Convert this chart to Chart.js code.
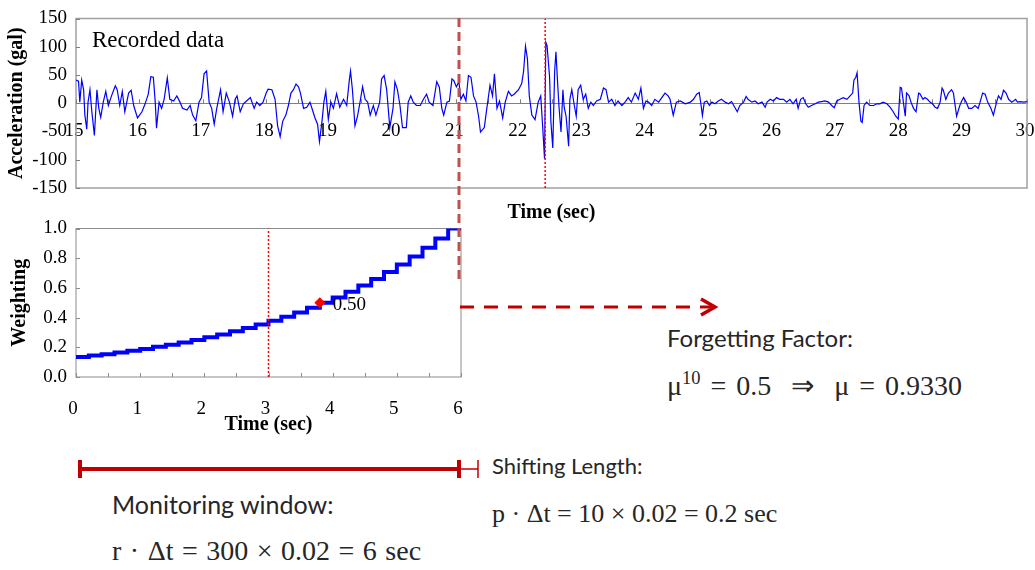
<!DOCTYPE html>
<html>
<head>
<meta charset="utf-8">
<title>Monitoring window and forgetting factor</title>
<script src="https://cdn.jsdelivr.net/npm/chart.js@4.4.1/dist/chart.umd.min.js"></script>
<style>
  html, body { margin: 0; padding: 0; background: #fff; }
  #page { position: relative; width: 1035px; height: 570px; overflow: hidden; }
  canvas { position: absolute; left: 0; }
  #accelChart { top: 0; }
  #weightChart { top: 210px; }
  .note { position: absolute; white-space: nowrap; color: #000; }
  .serif { font-family: 'Liberation Serif', 'Times New Roman', serif; }
  .sans { font-family: Lato, 'Open Sans', sans-serif; color: #262626; }
  .math { font-family: 'Liberation Serif', 'Times New Roman', serif; color: #262626; word-spacing: 3px; }
  .math sup { font-size: 0.66em; position: relative; top: -0.05em; }
  svg { position: absolute; left: 0; top: 0; }
</style>
</head>
<body>
<div id="page">
  <canvas id="accelChart" width="1035" height="223"></canvas>
  <canvas id="weightChart" width="475" height="225"></canvas>

  <div class="note serif" style="left:92px; top:27px; font-size:23px; line-height:26px;">Recorded data</div>

  <div class="note sans" style="left:667px; top:323px; font-size:24px; line-height:29px;">Forgetting Factor:</div>
  <div class="note math" style="left:667px; top:363px; font-size:28px; line-height:33px;">μ<sup>10</sup> = 0.5 &nbsp;⇒&nbsp; μ = 0.9330</div>

  <div class="note sans" style="left:492px; top:452px; font-size:22px; line-height:27px;">Shifting Length:</div>
  <div class="note math" style="left:492px; top:498px; font-size:26px; line-height:31px; word-spacing:0;">p · Δt = 10 × 0.02 = 0.2 sec</div>

  <div class="note sans" style="left:112px; top:489px; font-size:25px; line-height:30px;">Monitoring window:</div>
  <div class="note math" style="left:112px; top:534px; font-size:28px; line-height:33px; word-spacing:1.5px;">r · Δt = 300 × 0.02 = 6 sec</div>

  <svg width="1035" height="570">
    <!-- end of the current window -->
    <line x1="459" y1="18" x2="459" y2="280" stroke="#c0504d" stroke-width="3" stroke-dasharray="9 5"/>
    <!-- weighting carried forward -->
    <line x1="460" y1="307" x2="712" y2="307" stroke="#c00000" stroke-width="3" stroke-dasharray="14 10"/>
    <polyline points="701,299 715,307 701,315" fill="none" stroke="#c00000" stroke-width="3.5"/>
    <!-- monitoring window and shift -->
    <line x1="80" y1="469" x2="459" y2="469" stroke="#c00000" stroke-width="4"/>
    <line x1="80" y1="460" x2="80" y2="478" stroke="#c00000" stroke-width="4"/>
    <line x1="459" y1="460" x2="459" y2="478" stroke="#c00000" stroke-width="4"/>
    <line x1="459" y1="469" x2="478" y2="469" stroke="#c00000" stroke-width="1.5"/>
    <line x1="478" y1="460" x2="478" y2="478" stroke="#c00000" stroke-width="1.5"/>
  </svg>
</div>

<script>
// recorded acceleration, 15-30 s (gal)
const accelTime = [
  15.00, 15.04, 15.06, 15.09, 15.12, 15.14, 15.17, 15.19, 15.22, 15.25, 15.29, 15.33, 15.36, 15.39, 15.43, 15.47,
  15.51, 15.56, 15.62, 15.65, 15.69, 15.73, 15.77, 15.83, 15.87, 15.91, 15.97, 16.04, 16.09, 16.14, 16.18, 16.22,
  16.25, 16.27, 16.31, 16.35, 16.39, 16.44, 16.48, 16.54, 16.59, 16.64, 16.68, 16.75, 16.80, 16.84, 16.89, 16.94,
  16.98, 17.02, 17.06, 17.10, 17.14, 17.18, 17.22, 17.28, 17.32, 17.37, 17.42, 17.47, 17.51, 17.54, 17.59, 17.64,
  17.69, 17.75, 17.81, 17.85, 17.90, 17.95, 18.00, 18.03, 18.09, 18.14, 18.18, 18.22, 18.26, 18.31, 18.35, 18.39,
  18.43, 18.47, 18.51, 18.54, 18.59, 18.64, 18.69, 18.73, 18.77, 18.81, 18.84, 18.88, 18.91, 18.94, 18.98, 19.02,
  19.06, 19.11, 19.16, 19.22, 19.27, 19.31, 19.33, 19.36, 19.40, 19.44, 19.48, 19.52, 19.56, 19.60, 19.64, 19.69,
  19.73, 19.79, 19.82, 19.86, 19.90, 19.95, 20.00, 20.03, 20.07, 20.11, 20.15, 20.21, 20.24, 20.28, 20.32, 20.37,
  20.43, 20.48, 20.53, 20.57, 20.63, 20.69, 20.73, 20.77, 20.80, 20.85, 20.89, 20.93, 20.96, 21.00, 21.04, 21.07,
  21.11, 21.15, 21.19, 21.23, 21.27, 21.31, 21.35, 21.38, 21.44, 21.48, 21.53, 21.57, 21.60, 21.64, 21.68, 21.73,
  21.77, 21.82, 21.87, 21.91, 21.98, 22.03, 22.06, 22.09, 22.12, 22.15, 22.19, 22.24, 22.29, 22.33, 22.36, 22.39,
  22.41, 22.43, 22.47, 22.49, 22.52, 22.55, 22.57, 22.60, 22.62, 22.65, 22.68, 22.70, 22.73, 22.77, 22.79, 22.82,
  22.86, 22.89, 22.92, 22.96, 23.00, 23.04, 23.08, 23.12, 23.16, 23.21, 23.27, 23.32, 23.36, 23.40, 23.45, 23.50,
  23.55, 23.61, 23.66, 23.71, 23.76, 23.82, 23.87, 23.91, 23.95, 23.99, 24.03, 24.08, 24.13, 24.19, 24.24, 24.29,
  24.34, 24.37, 24.42, 24.47, 24.53, 24.61, 24.69, 24.74, 24.79, 24.83, 24.86, 24.88, 24.91, 24.95, 24.99, 25.03,
  25.08, 25.13, 25.18, 25.24, 25.29, 25.34, 25.39, 25.43, 25.47, 25.53, 25.57, 25.60, 25.66, 25.71, 25.76, 25.82,
  25.87, 25.90, 25.95, 26.00, 26.05, 26.10, 26.16, 26.21, 26.26, 26.31, 26.36, 26.39, 26.43, 26.47, 26.51, 26.55,
  26.60, 26.66, 26.71, 26.76, 26.81, 26.87, 26.92, 26.96, 27.00, 27.05, 27.10, 27.16, 27.21, 27.25, 27.27, 27.30,
  27.32, 27.35, 27.38, 27.40, 27.43, 27.47, 27.52, 27.58, 27.63, 27.68, 27.73, 27.79, 27.84, 27.89, 27.93, 27.97,
  28.00, 28.02, 28.05, 28.08, 28.10, 28.14, 28.17, 28.21, 28.25, 28.29, 28.31, 28.36, 28.39, 28.43, 28.47, 28.51,
  28.55, 28.59, 28.63, 28.66, 28.68, 28.72, 28.76, 28.81, 28.84, 28.87, 28.89, 28.94, 28.97, 29.00, 29.04, 29.08,
  29.13, 29.18, 29.23, 29.26, 29.30, 29.34, 29.38, 29.43, 29.47, 29.52, 29.55, 29.59, 29.63, 29.67, 29.71, 29.76,
  29.82, 29.85, 29.89, 29.95, 30.00
];
const accelValue = [
  41, 39, 2, 41, 24, -21, -46, 2, 24, -15, -57, 24, -9, -25, 2, 21,
  -4, 13, 31, 24, -4, 21, -15, 18, 23, -4, -26, -15, -1, 16, 47, 46,
  2, -44, 2, -9, 7, 45, 7, 4, 13, 2, -9, -12, -4, -21, -31, 2,
  10, 52, 57, 2, -9, -37, -9, 24, -15, 18, 2, -23, 7, 13, -15, -1,
  4, 10, -9, 2, -4, 2, 18, 25, 24, 7, -40, -59, -32, -21, -4, 18,
  24, 34, 29, 18, -9, -7, 2, -12, -26, -37, -68, -32, 2, 21, -29, 2,
  -9, 17, -7, 7, -4, 40, 57, 24, -40, -23, 2, 29, 7, 2, -21, -4,
  -21, 2, 43, 49, 24, -43, -9, 38, 24, -4, -43, -43, 2, 13, 2, -4,
  -4, 7, 16, 2, -4, 38, 29, -9, -21, 2, 4, 43, 40, 29, 38, 7,
  16, 4, 49, 46, 13, 2, -23, -51, -43, -9, 32, 13, 52, -9, 4, -26,
  2, 21, 13, 16, 24, 35, 57, 101, 79, 13, -21, -29, 2, 13, -40, -98,
  108, 102, 46, -32, -79, 57, 91, 29, -9, -51, 24, -7, -23, -76, 7, 24,
  -4, -23, 24, 32, 7, 16, -9, 2, -4, 4, 7, 27, 24, 2, 7, -4,
  4, -4, 2, 10, 2, 18, 7, 27, -9, 4, 2, -4, 7, 2, 10, 18,
  13, 7, -21, 2, 4, -1, 2, 7, 16, 19, -4, -22, 2, 4, -4, 2,
  -1, 4, 7, 2, -1, 3, -7, -15, -4, 2, 12, 7, 2, 4, -1, 2,
  -7, 2, 7, 4, 10, 7, 7, 2, 7, -1, 7, -9, 7, 10, -1, -7,
  -4, -1, 2, 3, 4, 2, -4, -8, 4, 7, 10, 7, 13, 18, 41, 46,
  54, 2, -32, -34, -4, 2, -4, -4, -1, -1, 2, -1, -7, -15, -23, -28,
  28, 27, 2, -23, 18, 13, 2, -9, -15, 18, 17, 7, 10, 7, 2, -1,
  -7, -9, 2, 27, 23, 7, 18, 24, 18, -7, -23, -4, 4, 10, 2, -9,
  -9, -4, -9, 2, 18, 16, 2, -9, -21, 2, 13, 7, 23, 18, 7, 2,
  7, 2, 3, 2, 3
];
const pickTime = [22.4, 22.4];
const pickValue = [-150, 150];

// exponential weighting over the 6 s window, one step per 0.2 s shift
const weightTime = [
  0.0, 0.2, 0.4, 0.6, 0.8, 1.0, 1.2, 1.4, 1.6, 1.8, 2.0, 2.2, 2.4, 2.6, 2.8, 3.0,
  3.2, 3.4, 3.6, 3.8, 4.0, 4.2, 4.4, 4.6, 4.8, 5.0, 5.2, 5.4, 5.6, 5.8, 6.0
];
const weightValue = [
  0.134, 0.144, 0.154, 0.165, 0.177, 0.189, 0.203, 0.218, 0.233, 0.250, 0.268, 0.287, 0.308, 0.330, 0.353, 0.379,
  0.406, 0.435, 0.466, 0.500, 0.536, 0.574, 0.616, 0.660, 0.707, 0.758, 0.812, 0.871, 0.933, 1.000, 1.000
];
const halfWeight = { x: 3.8, y: 0.50 };
const markTime = [3.0, 3.0];
const markValue = [0, 1];

const accelTicks = [-150, -100, -50, 0, 50, 100, 150];
const weightTicks = [0.0, 0.2, 0.4, 0.6, 0.8, 1.0];

const serif = "'Liberation Serif', 'Times New Roman', serif";
const tickFont = { family: serif, size: 19, lineHeight: 1 };
const titleFont = { family: serif, size: 20, weight: 'bold', lineHeight: 1 };

const toPoints = (xs, ys) => xs.map((x, i) => ({ x: x, y: ys[i] }));

// keep the plot area edges where the layout padding puts them
const noSidePadding = s => { s.paddingLeft = 0; s.paddingRight = 0; };

// gray box round the plot area plus short inward tick marks
const frame = {
  id: 'frame',
  beforeDatasetsDraw(chart, args, opts) {
    const { ctx, chartArea: a, scales } = chart;
    const x = scales.x, y = scales.y;
    ctx.save();
    ctx.strokeStyle = opts.color;
    ctx.lineWidth = opts.width;
    ctx.strokeRect(a.left, a.top, a.right - a.left, a.bottom - a.top);
    ctx.lineWidth = 1;
    ctx.strokeStyle = opts.tickColor;
    ctx.beginPath();
    const base = y.getPixelForValue(opts.xTickAt);
    for (let v = x.min; v <= x.max + 1e-9; v += opts.xStep) {
      const px = Math.round(x.getPixelForValue(v)) + 0.5;
      ctx.moveTo(px, base);
      ctx.lineTo(px, base - opts.tick);
    }
    for (let v = y.min; v <= y.max + 1e-9; v += opts.yStep) {
      const py = Math.round(y.getPixelForValue(v)) + 0.5;
      ctx.moveTo(a.left, py);
      ctx.lineTo(a.left + opts.tick, py);
    }
    ctx.stroke();
    ctx.restore();
  }
};

// writes the value beside a marked point
const pointLabel = {
  id: 'pointLabel',
  afterDatasetsDraw(chart) {
    const ctx = chart.ctx;
    chart.data.datasets.forEach((ds, i) => {
      if (!ds.valueLabel) return;
      const pt = chart.getDatasetMeta(i).data[0];
      ctx.save();
      ctx.font = '19px ' + serif;
      ctx.fillStyle = '#000';
      ctx.textBaseline = 'middle';
      ctx.fillText(ds.data[0].y.toFixed(2), pt.x + 13, pt.y + 2);
      ctx.restore();
    });
  }
};

new Chart(document.getElementById('accelChart'), {
  type: 'line',
  data: {
    datasets: [
      {
        data: toPoints(accelTime, accelValue),
        borderColor: '#0000ff',
        borderWidth: 1.2,
        pointRadius: 0,
        tension: 0,
        order: 2
      },
      {
        data: toPoints(pickTime, pickValue),
        borderColor: '#ff0000',
        borderWidth: 1.5,
        borderDash: [2, 2],
        pointRadius: 0,
        order: 1
      }
    ]
  },
  options: {
    responsive: false,
    animation: false,
    layout: { padding: { top: 14, right: 8, left: 0, bottom: 0 } },
    plugins: {
      legend: { display: false },
      tooltip: { enabled: false },
      frame: { color: '#a0a0a0', width: 1.5, tickColor: '#808080', xStep: 0.5, yStep: 50, xTickAt: 0, tick: 4 }
    },
    scales: {
      x: {
        type: 'linear',
        min: 15,
        max: 30,
        afterFit: noSidePadding,
        ticks: { display: false },
        grid: { display: false, drawTicks: false },
        border: { display: false },
        title: { display: true, text: 'Time (sec)', color: '#000', font: titleFont, padding: { top: 15, bottom: 0 } }
      },
      x2: {
        type: 'linear',
        axis: 'x',
        position: { y: 0 },
        min: 15,
        max: 30,
        afterFit: noSidePadding,
        ticks: {
          stepSize: 1,
          autoSkip: false,
          maxRotation: 0,
          labelOffset: -2,
          color: '#000',
          font: tickFont,
          padding: 18
        },
        grid: { drawOnChartArea: false, drawTicks: false },
        border: { color: '#808080', width: 1 }
      },
      y: {
        min: -150,
        max: 150,
        afterBuildTicks: s => { s.ticks = accelTicks.map(v => ({ value: v })); },
        afterFit: s => { s.width = 76; },
        ticks: { color: '#000', font: tickFont, padding: 9 },
        grid: { display: false, drawTicks: false },
        border: { display: false },
        title: { display: true, text: 'Acceleration (gal)', color: '#000', font: titleFont, padding: { top: 7, bottom: 0 } }
      }
    }
  },
  plugins: [frame]
});

new Chart(document.getElementById('weightChart'), {
  type: 'line',
  data: {
    datasets: [
      {
        data: toPoints(weightTime, weightValue),
        borderColor: '#0000ff',
        borderWidth: 4,
        stepped: true,
        pointRadius: 0,
        order: 3
      },
      {
        data: toPoints(markTime, markValue),
        borderColor: '#ff0000',
        borderWidth: 1.5,
        borderDash: [2, 2],
        pointRadius: 0,
        order: 2
      },
      {
        data: [halfWeight],
        showLine: false,
        valueLabel: true,
        pointStyle: 'rectRot',
        pointRadius: 5.5,
        backgroundColor: '#ff0000',
        borderColor: '#ff0000',
        borderWidth: 0,
        order: 1
      }
    ]
  },
  options: {
    responsive: false,
    animation: false,
    layout: { padding: { top: 18, right: 14, left: 0, bottom: 0 } },
    plugins: {
      legend: { display: false },
      tooltip: { enabled: false },
      frame: { color: '#8c8c8c', width: 1, tickColor: '#8c8c8c', xStep: 0.5, yStep: 0.2, xTickAt: 0, tick: 4 }
    },
    scales: {
      x: {
        type: 'linear',
        min: 0,
        max: 6,
        afterFit: s => { noSidePadding(s); s.height = 58; },
        ticks: { stepSize: 1, color: '#000', font: tickFont, padding: 23, maxRotation: 0, labelOffset: -3 },
        grid: { display: false, drawTicks: false },
        border: { display: false },
        title: { display: true, text: 'Time (sec)', color: '#000', font: titleFont, padding: { top: 0, bottom: 0 } }
      },
      y: {
        min: 0,
        max: 1,
        afterBuildTicks: s => { s.ticks = weightTicks.map(v => ({ value: v })); },
        afterFit: s => { s.width = 76; },
        ticks: { color: '#000', font: tickFont, padding: 9, callback: v => v.toFixed(1) },
        grid: { display: false, drawTicks: false },
        border: { display: false },
        title: { display: true, text: 'Weighting', color: '#000', font: titleFont, padding: { top: 10, bottom: 0 } }
      }
    }
  },
  plugins: [frame, pointLabel]
});
</script>
</body>
</html>
